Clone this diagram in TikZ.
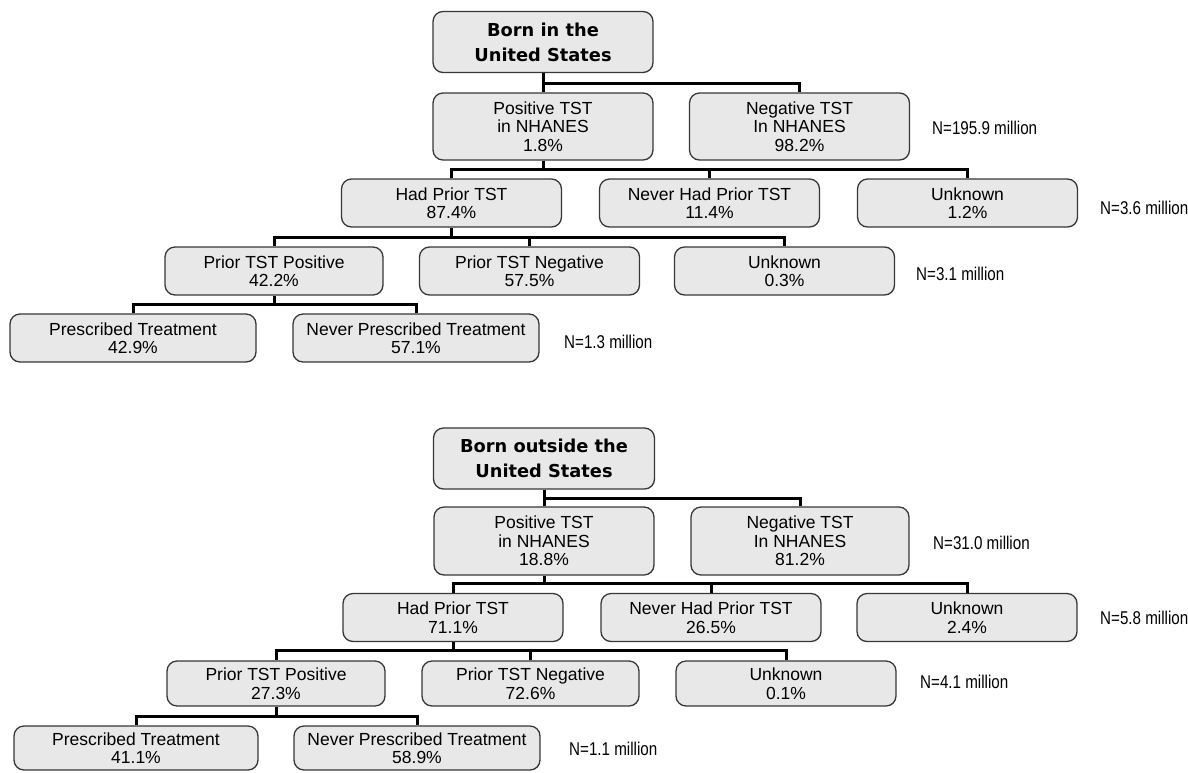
\documentclass[tikz,border=0pt]{standalone}
\usepackage{fontspec}
\setmainfont{Liberation Sans}
\newfontfamily\rootfont{DejaVu Sans}
\newfontfamily\countfont[FakeStretch=0.82]{Liberation Sans}
\usepackage{tikz}
\definecolor{boxgray}{RGB}{232,232,232}
\definecolor{edgegray}{RGB}{55,55,55}

\begin{document}
\begin{tikzpicture}[x=1pt, y=-1pt,
  root/.style={rectangle, rounded corners=10pt, fill=boxgray, draw=edgegray, line width=1.3pt,
               minimum width=220pt, minimum height=61pt, inner sep=0pt, align=center,
               font=\rootfont\bfseries\fontsize{17.8}{25}\selectfont},
  cell/.style={rectangle, rounded corners=10pt, fill=boxgray, draw=edgegray, line width=1.3pt,
               minimum width=220pt, minimum height=48pt, inner sep=0pt, align=center,
               font=\fontsize{17.5}{18.5}\selectfont},
  count/.style={anchor=west, inner sep=0pt, font=\countfont\fontsize{18.5}{20}\selectfont},
  bus/.style={line width=3pt}]
\useasboundingbox (0,0) rectangle (1188,772);

% born in the united states
\begin{scope}
  \node[root] (R1) at (543,42) {Born in the\\United States};
  \node[cell, minimum height=67pt] (P1) at (543,126.5) {Positive TST\\in NHANES\\1.8\%};
  \node[cell, minimum height=67pt] (N1) at (799.5,126.5) {Negative TST\\In NHANES\\98.2\%};
  \node[count] (c1a) at (932,128) {N=195.9 million};
  \node[cell] (H1) at (451.5,203) {Had Prior TST\\87.4\%};
  \node[cell] (V1) at (709.5,203) {Never Had Prior TST\\11.4\%};
  \node[cell] (U1) at (967.5,203) {Unknown\\1.2\%};
  \node[count] (c1b) at (1100,208) {N=3.6 million};
  \node[cell, minimum width=218pt] (TP1) at (274,271) {Prior TST Positive\\42.2\%};
  \node[cell] (TN1) at (529.5,271) {Prior TST Negative\\57.5\%};
  \node[cell] (TU1) at (784.5,271) {Unknown\\0.3\%};
  \node[count] (c1c) at (916,274) {N=3.1 million};
  \node[cell, minimum width=246pt] (S1) at (133,338) {Prescribed Treatment\\42.9\%};
  \node[cell, minimum width=246pt] (NS1) at (416,338) {Never Prescribed Treatment\\57.1\%};
  \node[count] (c1d) at (564,342) {N=1.3 million};
  \draw[bus] (R1.south) -- ++(0,10) coordinate (a1);
  \draw[bus] (P1.north) |- (a1) -| (N1.north);
  \draw[bus] (P1.south) -- ++(0,9) coordinate (b1);
  \draw[bus] (H1.north) |- (b1) -| (U1.north);
  \draw[bus] (V1.north) -- (V1.north |- b1);
  \draw[bus] (H1.south) -- ++(0,10) coordinate (d1);
  \draw[bus] (TP1.north) |- (d1) -| (TU1.north);
  \draw[bus] (TN1.north) -- (TN1.north |- d1);
  \draw[bus] (TP1.south) -- ++(0,9) coordinate (e1);
  \draw[bus] (S1.north) |- (e1) -| (NS1.north);
\end{scope}

% born outside the united states
\begin{scope}
  \node[root, minimum width=221pt] (R2) at (544,458.5) {Born outside the\\United States};
  \node[cell, minimum height=68pt] (P2) at (544,541) {Positive TST\\in NHANES\\18.8\%};
  \node[cell, minimum height=68pt, minimum width=218pt] (N2) at (800,541) {Negative TST\\In NHANES\\81.2\%};
  \node[count] (c2a) at (933,543) {N=31.0 million};
  \node[cell] (H2) at (453,617.5) {Had Prior TST\\71.1\%};
  \node[cell] (V2) at (711,617.5) {Never Had Prior TST\\26.5\%};
  \node[cell] (U2) at (967,617.5) {Unknown\\2.4\%};
  \node[count] (c2b) at (1100,618) {N=5.8 million};
  \node[cell, minimum width=218pt, minimum height=45pt] (TP2) at (276,683.5) {Prior TST Positive\\27.3\%};
  \node[cell, minimum width=217pt, minimum height=45pt] (TN2) at (530.5,683.5) {Prior TST Negative\\72.6\%};
  \node[cell, minimum height=45pt] (TU2) at (786,683.5) {Unknown\\0.1\%};
  \node[count] (c2c) at (920,682) {N=4.1 million};
  \node[cell, minimum width=244pt, minimum height=44pt] (S2) at (136,748) {Prescribed Treatment\\41.1\%};
  \node[cell, minimum width=246pt, minimum height=44pt] (NS2) at (417,748) {Never Prescribed Treatment\\58.9\%};
  \node[count] (c2d) at (569,749) {N=1.1 million};
  \draw[bus] (R2.south) -- ++(0,9) coordinate (a2);
  \draw[bus] (P2.north) |- (a2) -| (N2.north);
  \draw[bus] (P2.south) -- ++(0,8) coordinate (b2);
  \draw[bus] (H2.north) |- (b2) -| (U2.north);
  \draw[bus] (V2.north) -- (V2.north |- b2);
  \draw[bus] (H2.south) -- ++(0,8) coordinate (d2);
  \draw[bus] (TP2.north) |- (d2) -| (TU2.north);
  \draw[bus] (TN2.north) -- (TN2.north |- d2);
  \draw[bus] (TP2.south) -- ++(0,10) coordinate (e2);
  \draw[bus] (S2.north) |- (e2) -| (NS2.north);
\end{scope}

\end{tikzpicture}
\end{document}
